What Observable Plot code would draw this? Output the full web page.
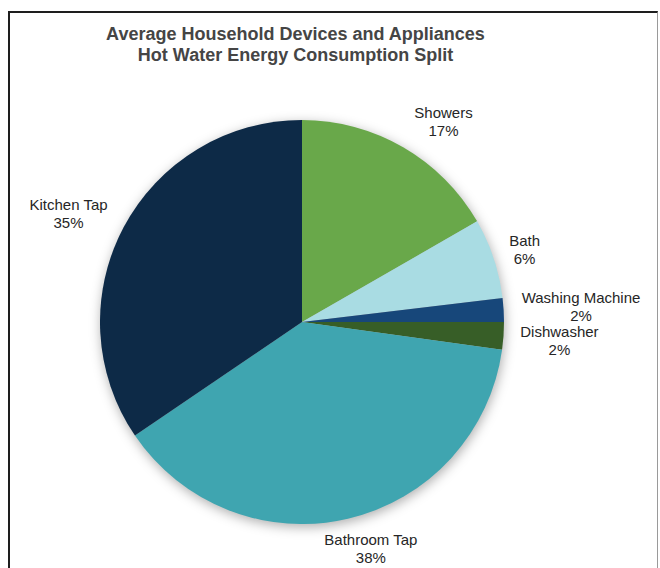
<!DOCTYPE html>
<html>
<head>
<meta charset="utf-8">
<script src="https://cdn.jsdelivr.net/npm/d3@7"></script>
<script src="https://cdn.jsdelivr.net/npm/@observablehq/plot@0.6"></script>
<style>
  body { margin: 0; background: #fff; font-family: "Liberation Sans", Arial, sans-serif; }
  #wrap { position: relative; width: 660px; height: 568px; overflow: hidden; }
  #frame { position: absolute; left: 8px; top: 11px; width: 647px; height: 620px;
           border-top: 2px solid #1e1e1e; border-left: 2px solid #1e1e1e; border-right: 1px solid #9a9a9a; }
  #title { position: absolute; left: 0; width: 591px; top: 24px; text-align: center;
           font-weight: bold; font-size: 18px; line-height: 21px; color: #454545; }
  #chart { position: absolute; left: 0; top: 0; }
</style>
</head>
<body>
<div id="wrap">
  <div id="frame"></div>
  <div id="chart"></div>
  <div id="title">Average Household Devices and Appliances<br>Hot Water Energy Consumption Split</div>
</div>
<script>
// ---- data ----
const categories = ["Showers", "Bath", "Washing Machine", "Dishwasher", "Bathroom Tap", "Kitchen Tap"];
const shares = [16.7, 6.4, 1.9, 2.2, 38.3, 34.5];
const colors = ["#69a84a", "#a9dce3", "#17477a", "#375e27", "#3fa5b0", "#0d2a47"];

// ---- label layout (radial factor, angle nudge in degrees) ----
const labelLayout = {
  "Showers": {k: 1.215, nudge: 5.0},
  "Bath": {k: 1.157, nudge: 0.2},
  "Washing Machine": {k: 1.381, nudge: 0.1},
  "Dishwasher": {k: 1.275, nudge: 0},
  "Bathroom Tap": {k: 1.168, nudge: -3.7},
  "Kitchen Tap": {k: 1.278, nudge: -2.9}
};

const table = categories.map((c, i) => ({category: c, share: shares[i]}));

// custom pie mark using Plot scales
class Pie extends Plot.Mark {
  constructor(data, options = {}) {
    const {value, fill} = options;
    super(data, {
      value: {value},
      fill: {value: fill, scale: "color"}
    }, options, {ariaLabel: "pie"});
  }
  render(index, scales, channels) {
    const cx = scales.x(0), cy = scales.y(0), r = scales.x(1) - scales.x(0);
    const V = channels.value, F = channels.fill;
    const arcs = d3.pie().sort(null).value(i => V[i])(Array.from(index));
    const arc = d3.arc().innerRadius(0).outerRadius(r);
    const g = d3.create("svg:g")
      .attr("transform", `translate(${cx},${cy})`)
      .style("filter", "drop-shadow(1px 3px 6px rgba(0,0,0,0.32))");
    g.selectAll("path").data(arcs).join("path")
      .attr("d", arc)
      .attr("fill", d => F[d.data]);
    return g.node();
  }
}

const pieArcs = d3.pie().sort(null).value(d => d.share)(table);
const labels = pieArcs.map(a => {
  const L = labelLayout[a.data.category];
  const mid = (a.startAngle + a.endAngle) / 2 + L.nudge * Math.PI / 180;
  return {
    x: L.k * Math.sin(mid),
    y: L.k * Math.cos(mid),
    text: `${a.data.category}\n${Math.round(a.data.share)}%`
  };
});

const chart = Plot.plot({
  width: 660,
  height: 568,
  margin: 0,
  x: {domain: [-1, 1], range: [100, 504], axis: null},
  y: {domain: [-1, 1], range: [524, 120], axis: null},
  color: {domain: categories, range: colors},
  style: {fontFamily: "'Liberation Sans', Arial, sans-serif", background: "transparent", overflow: "visible"},
  marks: [
    new Pie(table, {value: "share", fill: "category"}),
    Plot.text(labels, {x: "x", y: "y", text: "text", fill: "#262626", fontSize: 15, lineHeight: 1.2})
  ]
});
document.getElementById("chart").appendChild(chart);
</script>
</body>
</html>
